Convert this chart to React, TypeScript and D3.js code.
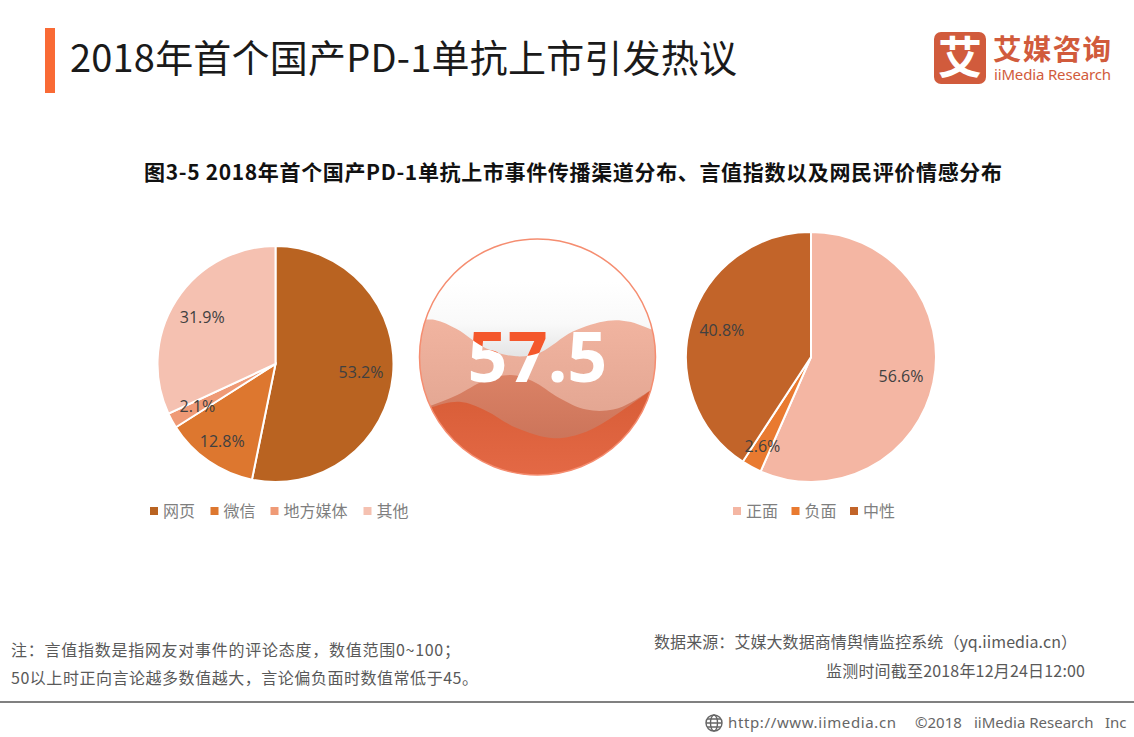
import React from "react";
import * as d3 from "d3";

const W = 1134, H = 737;
const channelNames = ["网页", "微信", "地方媒体", "其他"];
const channelValues = [53.2, 12.8, 2.1, 31.9];
const channelColors = ["#b96321", "#dd772f", "#ef9a76", "#f5c1b1"];
const moodNames = ["正面", "负面", "中性"];
const moodValues = [56.6, 2.6, 40.8];
const moodColors = ["#f4b6a3", "#e97a30", "#c26429"];
const indexValue = "57.5";
// wave outlines, read in the gauge box (x, y in 0..1 of the 270x260 crop)
const waveBack: [number, number][] = [[0.05,0.37],[0.13,0.365],[0.21,0.4],[0.32,0.475],[0.43,0.505],[0.52,0.49],[0.64,0.41],[0.77,0.368],[0.85,0.372],[0.95,0.41]];
const waveMid: [number, number][] = [[0.05,0.72],[0.21,0.655],[0.31,0.6],[0.41,0.577],[0.49,0.6],[0.59,0.665],[0.69,0.71],[0.79,0.71],[0.86,0.68],[0.95,0.62]];
const waveFront: [number, number][] = [[0.05,0.73],[0.12,0.7],[0.22,0.68],[0.32,0.715],[0.43,0.78],[0.57,0.82],[0.69,0.795],[0.8,0.73],[0.95,0.62]];
// label distance from each pie's centre
const channelLabelRadii = [86, 94, 89, 87];
const moodLabelRadii = [92, 102, 93];

const FONT = "'Noto Sans CJK SC', 'Noto Sans', sans-serif";

function Pie({ cx, cy, r, values, colors, labelRadii }: { cx: number; cy: number; r: number; values: number[]; colors: string[]; labelRadii: number[] }) {
  const pie = d3.pie<number>().sort(null);
  const arc = d3.arc<d3.PieArcDatum<number>>().innerRadius(0).outerRadius(r);
  return (
    <g transform={`translate(${cx},${cy})`}>
      {pie(values).map((d, i) => (
        <path key={i} d={arc(d)!} fill={colors[i]} stroke="#fff" strokeWidth={2} />
      ))}
      {pie(values).map((d, i) => {
        const labelArc = d3.arc<d3.PieArcDatum<number>>().innerRadius(labelRadii[i]).outerRadius(labelRadii[i]);
        const [x, y] = labelArc.centroid(d);
        return (
          <text key={i} x={x} y={y} dy="0.35em" textAnchor="middle" fontSize={16} fontFamily="'Open Sans', sans-serif" fill="#404040">
            {d.value.toFixed(1)}%
          </text>
        );
      })}
    </g>
  );
}

function Legend({ x, y, names, colors, gaps }: { x: number; y: number; names: string[]; colors: string[]; gaps: number[] }) {
  let cur = x;
  return (
    <g>
      {names.map((n, i) => {
        const px = cur;
        cur += gaps[i];
        return (
          <g key={n}>
            <rect x={px} y={y - 4} width={8} height={8} fill={colors[i]} />
            <text x={px + 13} y={y} dy="0.36em" fontSize={16} fontFamily={FONT} fill="#7f7f7f">{n}</text>
          </g>
        );
      })}
    </g>
  );
}

function Gauge() {
  const bx = 400, by = 225, bw = 270, bh = 260;
  const sx = d3.scaleLinear().domain([0, 1]).range([bx, bx + bw]);
  const sy = d3.scaleLinear().domain([0, 1]).range([by, by + bh]);
  const line = d3.line<[number, number]>().x(d => sx(d[0])).y(d => sy(d[1])).curve(d3.curveCatmullRom);
  const toBottom = (pts: [number, number][]) => `${line(pts)}L${sx(1)},${sy(1)}L${sx(0)},${sy(1)}L${sx(0)},${sy(pts[0][1])}Z`;
  const above = `${line(waveBack)}L${sx(1)},${sy(0)}L${sx(0)},${sy(0)}Z`;
  const cx = 537.5, cy = 357, r = 118;
  const num = { x: cx, y: 382, textAnchor: "middle" as const, fontSize: 70, fontWeight: 700, fontFamily: "'Noto Sans', sans-serif", children: indexValue };
  return (
    <g>
      <defs>
        <clipPath id="disc"><circle cx={cx} cy={cy} r={r} /></clipPath>
        <clipPath id="aboveWave"><path d={above} /></clipPath>
        <linearGradient id="sky" x1="0" x2="0" y1="0" y2="1">
          <stop offset="0.22" stopColor="#ffffff" />
          <stop offset="0.38" stopColor="#f9f9f9" />
          <stop offset="0.52" stopColor="#e2e2e2" />
        </linearGradient>
        <linearGradient id="backGrad" x1="0" x2="0" y1="0" y2="1">
          <stop offset="0" stopColor="#f1b4a0" />
          <stop offset="1" stopColor="#d99c88" />
        </linearGradient>
        <linearGradient id="midGrad" x1="0" x2="0" y1="0" y2="1">
          <stop offset="0" stopColor="#d97d60" />
          <stop offset="1" stopColor="#bf664c" />
        </linearGradient>
        <linearGradient id="frontGrad" x1="0" x2="0" y1="0" y2="1">
          <stop offset="0" stopColor="#d75c36" />
          <stop offset="1" stopColor="#e56a47" />
        </linearGradient>
      </defs>
      <g clipPath="url(#disc)">
        <rect x={bx} y={by} width={bw} height={bh} fill="url(#sky)" />
        <path d={toBottom(waveBack)} fill="url(#backGrad)" />
        <path d={toBottom(waveMid)} fill="url(#midGrad)" opacity={0.9} />
        <path d={toBottom(waveFront)} fill="url(#frontGrad)" />
        <text {...num} fill="#ffffff" />
        <text {...num} fill="#f4572b" clipPath="url(#aboveWave)" />
      </g>
      <circle cx={cx} cy={cy} r={r} fill="none" stroke="#f58d70" strokeWidth={1.5} />
    </g>
  );
}

export default function App() {
  return (
    <svg width={W} height={H} viewBox={`0 0 ${W} ${H}`} style={{ position: "absolute", left: 0, top: 0, background: "#fff" }}>
      <rect x={45} y={28} width={10} height={65} fill="#f96a35" />
      <text x={70} y={72} fontSize={38} fontFamily={FONT} fill="#1a1a1a" textLength={667}>2018年首个国产PD-1单抗上市引发热议</text>

      <rect x={934} y={32} width={52} height={52} rx={7} fill="#d15b3c" />
      <text x={960} y={74} textAnchor="middle" fontSize={44} fontWeight={700} fontFamily={FONT} fill="#fff">艾</text>
      <text x={993} y={60} fontSize={28.5} fontWeight={700} fontFamily={FONT} fill="#d15b3c" textLength={118}>艾媒咨询</text>
      <text x={994} y={80} fontSize={15} fontFamily="'Noto Sans', sans-serif" fill="#d15b3c" textLength={117}>iiMedia Research</text>

      <text x={144} y={180} fontSize={21} fontWeight={700} fontFamily={FONT} fill="#111" textLength={858}>图3-5 2018年首个国产PD-1单抗上市事件传播渠道分布、言值指数以及网民评价情感分布</text>

      <Pie cx={275.5} cy={364} r={118} values={channelValues} colors={channelColors} labelRadii={channelLabelRadii} />
      <Gauge />
      <Pie cx={811} cy={357} r={125} values={moodValues} colors={moodColors} labelRadii={moodLabelRadii} />

      <Legend x={150} y={511} names={channelNames} colors={channelColors} gaps={[60.5, 60, 93, 60]} />
      <Legend x={733} y={511} names={moodNames} colors={moodColors} gaps={[58.5, 58.5, 60]} />

      <g fontFamily={FONT} fontSize={16} fill="#595959">
        <text x={11} y={656} textLength={449}>注：言值指数是指网友对事件的评论态度，数值范围0~100；</text>
        <text x={11} y={684} textLength={467}>50以上时正向言论越多数值越大，言论偏负面时数值常低于45。</text>
        <text x={654} y={648} textLength={423}>数据来源：艾媒大数据商情舆情监控系统（yq.iimedia.cn）</text>
        <text x={826} y={677} textLength={259}>监测时间截至2018年12月24日12:00</text>
      </g>

      <line x1={0} x2={W} y1={702} y2={702} stroke="#808080" strokeWidth={2} />
      <g transform="translate(714,723)" fill="none" stroke="#666" strokeWidth={1.4}>
        <circle r={8} />
        <ellipse rx={3.5} ry={8} />
        <path d="M-8,0H8M-7,-4H7M-7,4H7" />
      </g>
      <g fontFamily="'Noto Sans', sans-serif" fontSize={15} fill="#666">
        <text x={728} y={728} textLength={168}>http://www.iimedia.cn</text>
        <text x={915} y={728}>©2018</text>
        <text x={974} y={728}>iiMedia Research</text>
        <text x={1105} y={728}>Inc</text>
      </g>
    </svg>
  );
}
